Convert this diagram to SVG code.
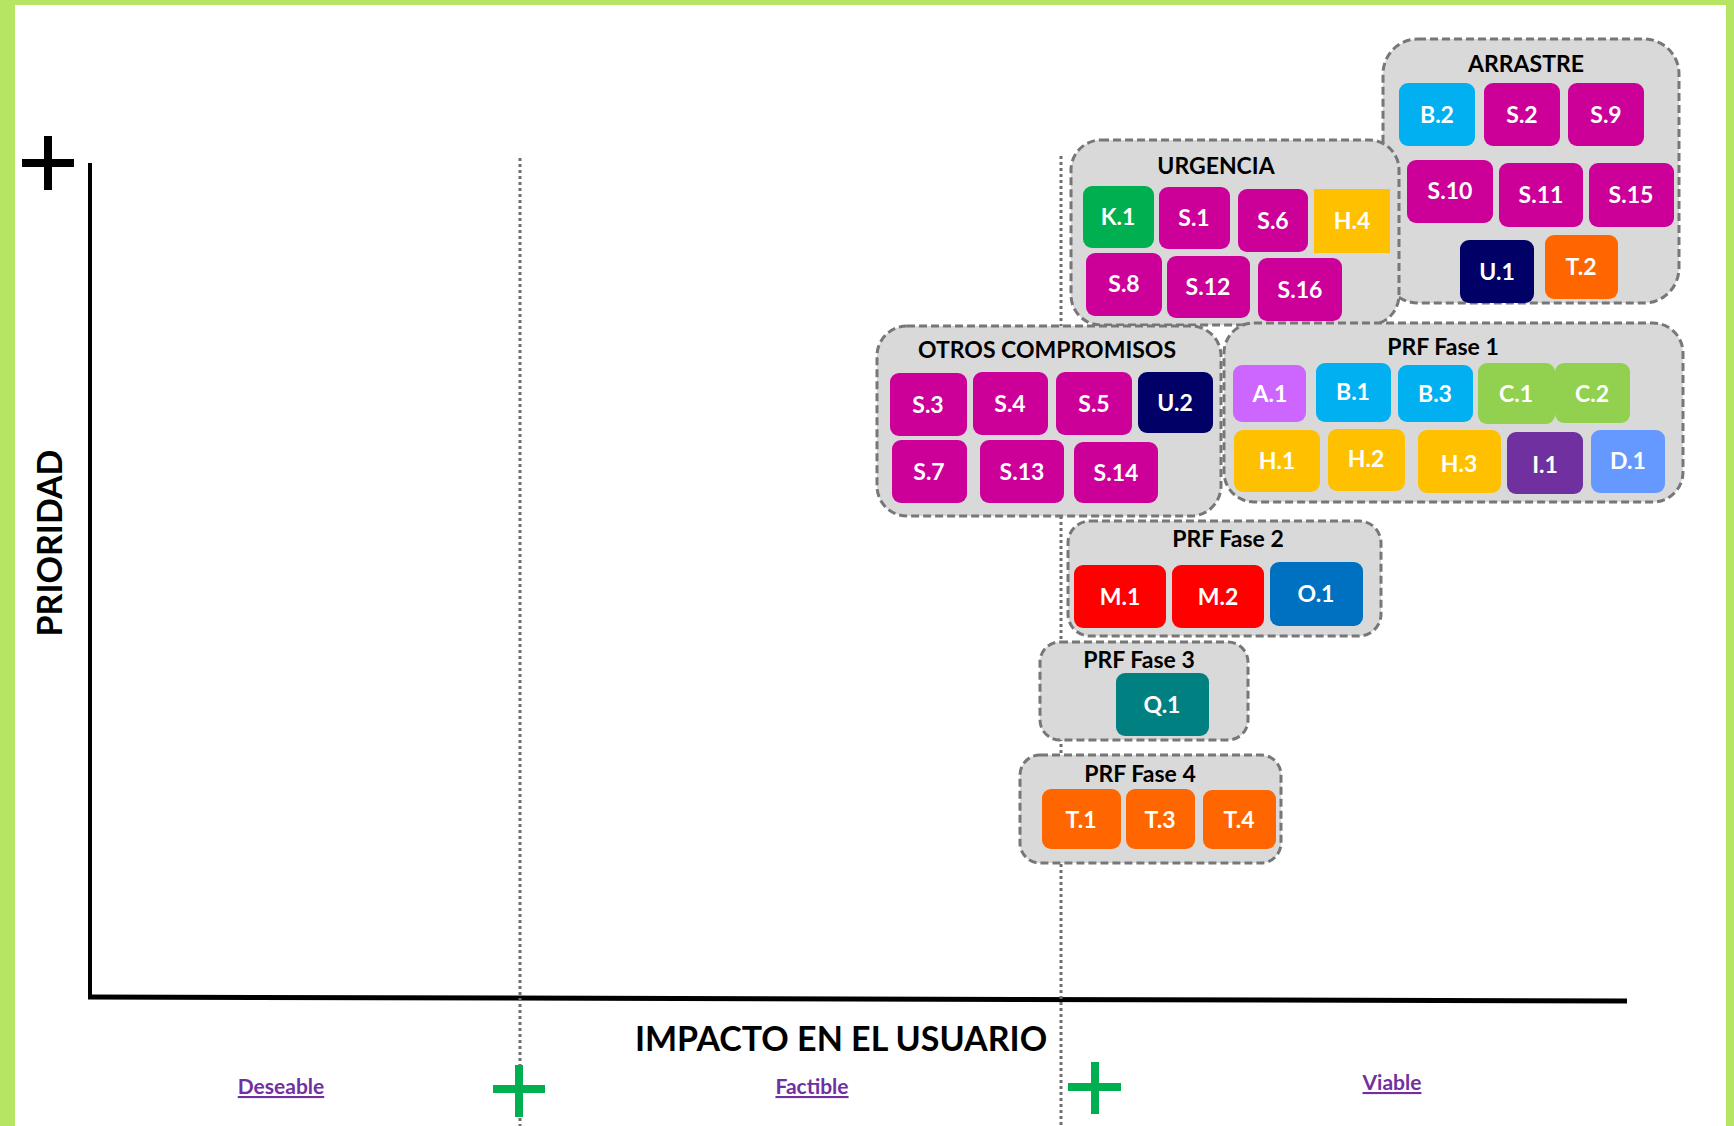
<svg xmlns="http://www.w3.org/2000/svg" width="1734" height="1126" viewBox="0 0 1734 1126">
<style>
.grp{fill:#D9D9D9;stroke:#777777;stroke-width:3;stroke-dasharray:8 4}
.title{font-family:Lato,"Open Sans","Liberation Sans",sans-serif;font-weight:700;font-size:23px;fill:#000;text-anchor:middle}
.lbl{font-family:Lato,"Open Sans","Liberation Sans",sans-serif;font-weight:700;font-size:23px;fill:#fff;text-anchor:middle}
.axis{font-family:Lato,"Open Sans","Liberation Sans",sans-serif;font-weight:700;font-size:34px;fill:#000;text-anchor:middle}
.cat{font-family:Lato,"Open Sans","Liberation Sans",sans-serif;font-weight:700;font-size:21px;fill:#7030A0;text-anchor:middle;text-decoration:underline}
.s{fill:#CC0099}.b{fill:#00B0F0}.u{fill:#000066}.t{fill:#FF6600}.k{fill:#00B050}.h{fill:#FFC000}
.a{fill:#CC66FF}.c{fill:#92D050}.i{fill:#7030A0}.d{fill:#6699FF}.m{fill:#FF0000}.o{fill:#0070C0}.q{fill:#008080}
.dot{stroke:#6F6F6F;stroke-width:3;stroke-dasharray:3 3;fill:none}
.gplus{stroke:#00B050;stroke-width:8;fill:none}
</style>
<rect x="0" y="0" width="1734" height="1126" fill="#B6E563"/>
<rect x="15" y="5" width="1711" height="1121" fill="#FFFFFF"/>

<g id="axes">
<line x1="90" y1="163" x2="90" y2="999" stroke="#000" stroke-width="4"/>
<line x1="88" y1="997" x2="1627" y2="1001" stroke="#000" stroke-width="5"/>
<line x1="520" y1="158" x2="520" y2="1126" class="dot"/>
<line x1="1061" y1="156" x2="1061" y2="1126" class="dot"/>
<path d="M22 163H74M48 136V190" stroke="#000" stroke-width="8" fill="none"/>
<path d="M493 1089H545M519 1065V1117" class="gplus"/>
<path d="M1068 1087H1121M1095 1062V1114" class="gplus"/>
<text class="axis" x="841" y="1051">IMPACTO EN EL USUARIO</text>
<text class="axis" transform="translate(62 543) rotate(-90)" x="0" y="0">PRIORIDAD</text>
<text class="cat" x="281" y="1094">Deseable</text>
<text class="cat" x="812" y="1094">Factible</text>
<text class="cat" x="1392" y="1090">Viable</text>
</g>

<g id="arrastre">
<rect class="grp" x="1383" y="39" width="296" height="264" rx="35"/>
<text class="title" x="1526" y="72">ARRASTRE</text>
<rect class="b" x="1399" y="83" width="76" height="63" rx="9"/><text class="lbl" x="1437" y="123">B.2</text>
<rect class="s" x="1484" y="83" width="76" height="63" rx="9"/><text class="lbl" x="1522" y="123">S.2</text>
<rect class="s" x="1568" y="83" width="76" height="63" rx="9"/><text class="lbl" x="1606" y="123">S.9</text>
<rect class="s" x="1407" y="160" width="86" height="63" rx="9"/><text class="lbl" x="1450" y="199">S.10</text>
<rect class="s" x="1499" y="163" width="84" height="64" rx="9"/><text class="lbl" x="1541" y="203">S.11</text>
<rect class="s" x="1589" y="163" width="85" height="64" rx="9"/><text class="lbl" x="1631" y="203">S.15</text>
<rect class="u" x="1460" y="240" width="74" height="63" rx="9"/><text class="lbl" x="1497" y="280">U.1</text>
<rect class="t" x="1545" y="235" width="73" height="64" rx="9"/><text class="lbl" x="1581" y="275">T.2</text>
</g>

<g id="urgencia">
<rect class="grp" x="1071" y="140" width="328" height="185" rx="30"/>
<text class="title" x="1216" y="174">URGENCIA</text>
<rect class="k" x="1083" y="186" width="71" height="62" rx="9"/><text class="lbl" x="1118" y="225">K.1</text>
<rect class="s" x="1159" y="187" width="71" height="62" rx="9"/><text class="lbl" x="1194" y="226">S.1</text>
<rect class="s" x="1238" y="189" width="70" height="63" rx="9"/><text class="lbl" x="1273" y="229">S.6</text>
<rect class="h" x="1314" y="189" width="76" height="64"/><text class="lbl" x="1352" y="229">H.4</text>
<rect class="s" x="1086" y="253" width="76" height="63" rx="9"/><text class="lbl" x="1124" y="292">S.8</text>
<rect class="s" x="1167" y="256" width="83" height="62" rx="9"/><text class="lbl" x="1208" y="295">S.12</text>
<rect class="s" x="1258" y="258" width="84" height="63" rx="9"/><text class="lbl" x="1300" y="298">S.16</text>
</g>

<g id="otros-compromisos">
<rect class="grp" x="877" y="326" width="344" height="190" rx="30"/>
<text class="title" x="1047" y="358">OTROS COMPROMISOS</text>
<rect class="s" x="890" y="373" width="77" height="63" rx="9"/><text class="lbl" x="928" y="413">S.3</text>
<rect class="s" x="973" y="372" width="75" height="63" rx="9"/><text class="lbl" x="1010" y="412">S.4</text>
<rect class="s" x="1056" y="372" width="76" height="63" rx="9"/><text class="lbl" x="1094" y="412">S.5</text>
<rect class="u" x="1138" y="372" width="75" height="61" rx="9"/><text class="lbl" x="1175" y="411">U.2</text>
<rect class="s" x="892" y="440" width="75" height="63" rx="9"/><text class="lbl" x="929" y="480">S.7</text>
<rect class="s" x="980" y="440" width="84" height="63" rx="9"/><text class="lbl" x="1022" y="480">S.13</text>
<rect class="s" x="1074" y="442" width="84" height="61" rx="9"/><text class="lbl" x="1116" y="481">S.14</text>
</g>

<g id="prf-fase-1">
<rect class="grp" x="1224" y="323" width="459" height="179" rx="30"/>
<text class="title" x="1443" y="355">PRF Fase 1</text>
<rect class="a" x="1233" y="365" width="73" height="57" rx="9"/><text class="lbl" x="1270" y="402">A.1</text>
<rect class="b" x="1316" y="363" width="75" height="59" rx="9"/><text class="lbl" x="1353" y="400">B.1</text>
<rect class="b" x="1398" y="365" width="75" height="57" rx="9"/><text class="lbl" x="1435" y="402">B.3</text>
<rect class="c" x="1478" y="363" width="77" height="61" rx="9"/><text class="lbl" x="1516" y="402">C.1</text>
<rect class="c" x="1555" y="363" width="75" height="60" rx="9"/><text class="lbl" x="1592" y="402">C.2</text>
<rect class="h" x="1234" y="430" width="86" height="62" rx="9"/><text class="lbl" x="1277" y="469">H.1</text>
<rect class="h" x="1328" y="429" width="77" height="62" rx="9"/><text class="lbl" x="1366" y="467">H.2</text>
<rect class="h" x="1418" y="430" width="83" height="63" rx="9"/><text class="lbl" x="1459" y="472">H.3</text>
<rect class="i" x="1507" y="432" width="76" height="62" rx="9"/><text class="lbl" x="1545" y="473">I.1</text>
<rect class="d" x="1591" y="430" width="74" height="63" rx="9"/><text class="lbl" x="1628" y="469">D.1</text>
</g>

<g id="prf-fase-2">
<rect class="grp" x="1068" y="521" width="313" height="115" rx="22"/>
<text class="title" x="1228" y="547">PRF Fase 2</text>
<rect class="m" x="1074" y="565" width="92" height="63" rx="9"/><text class="lbl" x="1120" y="605">M.1</text>
<rect class="m" x="1172" y="565" width="92" height="63" rx="9"/><text class="lbl" x="1218" y="605">M.2</text>
<rect class="o" x="1270" y="562" width="93" height="64" rx="9"/><text class="lbl" x="1316" y="602">O.1</text>
</g>

<g id="prf-fase-3">
<rect class="grp" x="1040" y="642" width="208" height="98" rx="20"/>
<text class="title" x="1139" y="668">PRF Fase 3</text>
<rect class="q" x="1116" y="673" width="93" height="63" rx="9"/><text class="lbl" x="1162" y="713">Q.1</text>
</g>

<g id="prf-fase-4">
<rect class="grp" x="1020" y="755" width="261" height="108" rx="20"/>
<text class="title" x="1140" y="782">PRF Fase 4</text>
<rect class="t" x="1042" y="789" width="79" height="60" rx="9"/><text class="lbl" x="1081" y="828">T.1</text>
<rect class="t" x="1126" y="789" width="69" height="60" rx="9"/><text class="lbl" x="1160" y="828">T.3</text>
<rect class="t" x="1203" y="790" width="73" height="59" rx="9"/><text class="lbl" x="1239" y="828">T.4</text>
</g>
</svg>
